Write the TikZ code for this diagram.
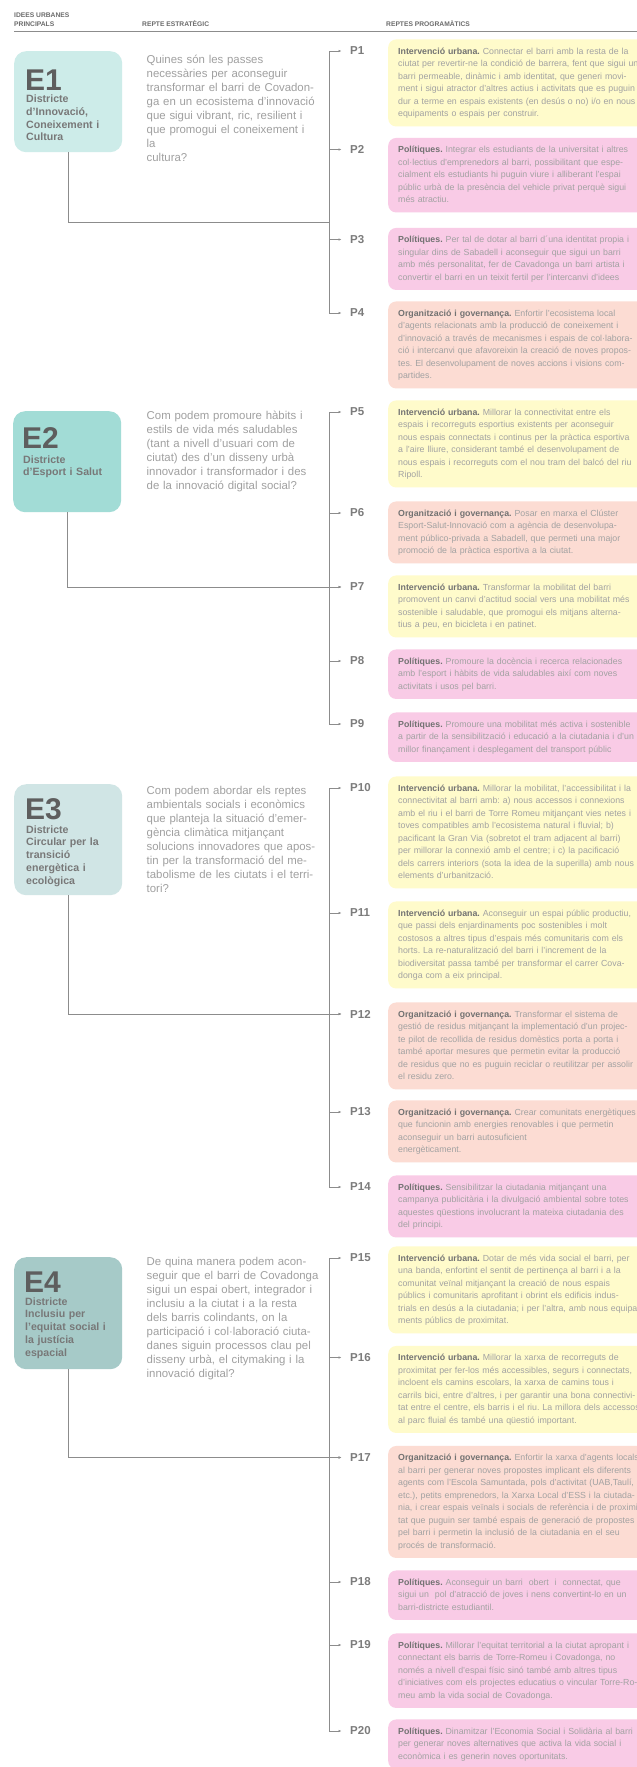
\documentclass[tikz,border=0pt]{standalone}
\usepackage{fontspec}
\setmainfont{Liberation Sans}
\usetikzlibrary{arrows.meta}
\frenchspacing
\definecolor{linegray}{HTML}{8C8C8C}
\definecolor{headgray}{HTML}{6B6B6B}
\definecolor{qgray}{HTML}{A0A0A0}
\definecolor{bodygray}{HTML}{A2A2A2}
\definecolor{boldgray}{HTML}{727272}
\definecolor{pgray}{HTML}{7C7C7C}
\definecolor{egray}{HTML}{5E5E5E}
\definecolor{esubgray}{HTML}{787878}
\definecolor{ecolA}{HTML}{CDECE9}
\definecolor{ecolB}{HTML}{A2DCD6}
\definecolor{ecolC}{HTML}{D0E5E5}
\definecolor{ecolD}{HTML}{A6CAC8}
\definecolor{cyel}{HTML}{FFFBCB}
\definecolor{cpink}{HTML}{F9CBE6}
\definecolor{csal}{HTML}{FCDCD3}
\newcommand{\LbIU}{\textcolor{boldgray}{\textbf{Intervenció urbana.}}}
\newcommand{\LbPol}{\textcolor{boldgray}{\textbf{Polítiques.}}}
\newcommand{\LbOrg}{\textcolor{boldgray}{\textbf{Organització i governança.}}}
\tikzset{
  conn/.style={draw=linegray, line width=0.9pt},
  arr/.style={conn, -{Latex[length=3pt,width=2.6pt]}, shorten >=8.5pt},
  hdr/.style={anchor=base west, inner sep=0pt, font=\fontsize{6.7}{8}\selectfont\bfseries, text=headgray},
  ebox/.style={anchor=north west, inner sep=0pt, rounded corners=12pt, minimum width=108pt},
  ehead/.style={anchor=base west, inner sep=0pt, font=\fontsize{30}{30}\selectfont\bfseries, text=egray},
  esub/.style={anchor=north west, inner sep=0pt, text width=100pt, align=left, font=\fontsize{10.6}{12.7}\selectfont\bfseries, text=esubgray},
  qtext/.style={anchor=north west, inner sep=0pt, text width=220pt, align=left, font=\fontsize{11.4}{14}\selectfont, text=qgray},
  plabel/.style={anchor=west, inner sep=0pt, font=\fontsize{11.5}{12}\selectfont\bfseries, text=pgray},
  pbox/.style={anchor=north west, rounded corners=8pt, inner xsep=10pt, inner ysep=6pt, text width=300pt, align=left, font=\fontsize{8.8}{12.5}\selectfont, text=bodygray},
}
\begin{document}
\begin{tikzpicture}[x=1pt,y=-1pt]
\useasboundingbox (0,0) rectangle (637,1767);
\fill[white] (0,0) rectangle (637,1767);
\clip (0,0) rectangle (637,1767);

% header
\node[hdr] (h1) at (14,17.5) {IDEES URBANES};
\node[hdr] (h2) at (14,26) {PRINCIPALS};
\node[hdr] (h3) at (142,26) {REPTE ESTRATÈGIC};
\node[hdr] (h4) at (386,26) {REPTES PROGRAMÀTICS};
\coordinate (hl0) at (14,31);
\coordinate (hl1) at (640,31);
\draw[conn, line width=0.8pt] (hl0) -- (hl1);

% E boxes
\node[ebox, fill=ecolA, minimum height=101pt] (E1) at (14,51) {};
\node[ehead] (E1h) at (25,90) {E1};
\node[esub] (E1s) at (26,93.6) {\strut Districte\\d'Innovació,\\Coneixement i\\Cultura};

\node[ebox, fill=ecolB, minimum height=101pt] (E2) at (13,411) {};
\node[ehead] (E2h) at (22,448) {E2};
\node[esub] (E2s) at (23,454.1) {\strut Districte\\d'Esport i Salut};

\node[ebox, fill=ecolC, minimum height=111pt] (E3) at (14,784) {};
\node[ehead] (E3h) at (25,819) {E3};
\node[esub] (E3s) at (26,824.1) {\strut Districte\\Circular per la\\transició\\energètica i\\ecològica};

\node[ebox, fill=ecolD, minimum height=112pt] (E4) at (14,1257) {};
\node[ehead] (E4h) at (24,1292) {E4};
\node[esub] (E4s) at (25,1296.1) {\strut Districte\\Inclusiu per\\l'equitat social i\\la justícia\\espacial};

% questions
\node[qtext] (Q1) at (146.5,53.2) {\strut Quines són les passes\\necessàries per aconseguir\\transformar el barri de Covadon-\\ga en un ecosistema d'innovació\\que sigui vibrant, ric, resilient i\\que promogui el coneixement i\\la\\cultura?};
\node[qtext] (Q2) at (146.5,409.2) {\strut Com podem promoure hàbits i\\estils de vida més saludables\\(tant a nivell d'usuari com de\\ciutat) des d'un disseny urbà\\innovador i transformador i des\\de la innovació digital social?};
\node[qtext] (Q3) at (146.5,784.9) {\strut Com podem abordar els reptes\\ambientals socials i econòmics\\que planteja la situació d'emer-\\gència climàtica mitjançant\\solucions innovadores que apos-\\tin per la transformació del me-\\tabolisme de les ciutats i el terri-\\tori?};
\node[qtext] (Q4) at (146.5,1255.7) {\strut De quina manera podem acon-\\seguir que el barri de Covadonga\\sigui un espai obert, integrador i\\inclusiu a la ciutat i a la resta\\dels barris colindants, on la\\participació i col·laboració ciuta-\\danes siguin processos clau pel\\disseny urbà, el citymaking i la\\innovació digital?};

% P labels, trunk points, arrows
\foreach \i/\c in {1/51,2/149.5,3/239.5,4/313,5/412,6/513,7/587,8/661,9/724,10/788,11/913,12/1014,13/1112,14/1187,15/1258,16/1357.5,17/1457.5,18/1582,19/1645,20/1731}{
  \coordinate (t\i) at (329,\c);
  \node[plabel] (P\i) at (350,\c) {P\i};
  \draw[arr] (t\i) -- (P\i);
}
\draw[conn, line cap=rect] (t1) -- (t4);
\draw[conn, line cap=rect] (t5) -- (t9);
\draw[conn, line cap=rect] (t10) -- (t14);
\draw[conn, line cap=rect] (t15) -- (t20);

% E connectors
\coordinate (j1) at (329,222);
\draw[conn] (E1.south) |- (j1);
\draw[arr] (E2.south) |- (P7);
\draw[arr] (E3.south) |- (P12);
\draw[arr] (E4.south) |- (P17);

% programme boxes
\node[pbox, fill=cyel] (B1) at (388,39.25) {\strut\LbIU{} Connectar el barri amb la resta de la\\ciutat per revertir-ne la condició de barrera, fent que sigui un\\barri permeable, dinàmic i amb identitat, que generi movi-\\ment i sigui atractor d'altres actius i activitats que es puguin\\dur a terme en espais existents (en desús o no) i/o en nous\\equipaments o espais per construir.\strut};
\node[pbox, fill=cpink] (B2) at (388,137.75) {\strut\LbPol{} Integrar els estudiants de la universitat i altres\\col·lectius d'emprenedors al barri, possibilitant que espe-\\cialment els estudiants hi puguin viure i alliberant l'espai\\públic urbà de la presència del vehicle privat perquè sigui\\més atractiu.\strut};
\node[pbox, fill=cpink] (B3) at (388,227.75) {\strut\LbPol{} Per tal de dotar al barri d´una identitat propia i\\singular dins de Sabadell i aconseguir que sigui un barri\\amb més personalitat, fer de Cavadonga un barri artista i\\convertir el barri en un teixit fertil per l'intercanvi d'idees\strut};
\node[pbox, fill=csal] (B4) at (388,301.25) {\strut\LbOrg{} Enfortir l'ecosistema local\\d'agents relacionats amb la producció de coneixement i\\d'innovació a través de mecanismes i espais de col·labora-\\ció i intercanvi que afavoreixin la creació de noves propos-\\tes. El desenvolupament de noves accions i visions com-\\partides.\strut};

\node[pbox, fill=cyel] (B5) at (388,400.25) {\strut\LbIU{} Millorar la connectivitat entre els\\espais i recorreguts esportius existents per aconseguir\\nous espais connectats i continus per la pràctica esportiva\\a l'aire lliure, considerant també el desenvolupament de\\nous espais i recorreguts com el nou tram del balcó del riu\\Ripoll.\strut};
\node[pbox, fill=csal] (B6) at (388,501.25) {\strut\LbOrg{} Posar en marxa el Clúster\\Esport-Salut-Innovació com a agència de desenvolupa-\\ment público-privada a Sabadell, que permeti una major\\promoció de la pràctica esportiva a la ciutat.\strut};
\node[pbox, fill=cyel] (B7) at (388,575.25) {\strut\LbIU{} Transformar la mobilitat del barri\\promovent un canvi d'actitud social vers una mobilitat més\\sostenible i saludable, que promogui els mitjans alterna-\\tius a peu, en bicicleta i en patinet.\strut};
\node[pbox, fill=cpink] (B8) at (388,649.25) {\strut\LbPol{} Promoure la docència i recerca relacionades\\amb l'esport i hàbits de vida saludables així com noves\\activitats i usos pel barri.\strut};
\node[pbox, fill=cpink] (B9) at (388,712.25) {\strut\LbPol{} Promoure una mobilitat més activa i sostenible\\a partir de la sensibilització i educació a la ciutadania i d'un\\millor finançament i desplegament del transport públic\strut};

\node[pbox, fill=cyel] (B10) at (388,776.25) {\strut\LbIU{} Millorar la mobilitat, l'accessibilitat i la\\connectivitat al barri amb: a) nous accessos i connexions\\amb el riu i el barri de Torre Romeu mitjançant vies netes i\\toves compatibles amb l'ecosistema natural i fluvial; b)\\pacificant la Gran Via (sobretot el tram adjacent al barri)\\per millorar la connexió amb el centre; i c) la pacificació\\dels carrers interiors (sota la idea de la superilla) amb nous\\elements d'urbanització.\strut};
\node[pbox, fill=cyel] (B11) at (388,901.25) {\strut\LbIU{} Aconseguir un espai públic productiu,\\que passi dels enjardinaments poc sostenibles i molt\\costosos a altres tipus d'espais més comunitaris com els\\horts. La re-naturalització del barri i l'increment de la\\biodiversitat passa també per transformar el carrer Cova-\\donga com a eix principal.\strut};
\node[pbox, fill=csal] (B12) at (388,1002.25) {\strut\LbOrg{} Transformar el sistema de\\gestió de residus mitjançant la implementació d'un projec-\\te pilot de recollida de residus domèstics porta a porta i\\també aportar mesures que permetin evitar la producció\\de residus que no es puguin reciclar o reutilitzar per assolir\\el residu zero.\strut};
\node[pbox, fill=csal] (B13) at (388,1100.25) {\strut\LbOrg{} Crear comunitats energètiques\\que funcionin amb energies renovables i que permetin\\aconseguir un barri autosuficient\\energèticament.\strut};
\node[pbox, fill=cpink] (B14) at (388,1175.25) {\strut\LbPol{} Sensibilitzar la ciutadania mitjançant una\\campanya publicitària i la divulgació ambiental sobre totes\\aquestes qüestions involucrant la mateixa ciutadania des\\del principi.\strut};

\node[pbox, fill=cyel] (B15) at (388,1246.25) {\strut\LbIU{} Dotar de més vida social el barri, per\\una banda, enfortint el sentit de pertinença al barri i a la\\comunitat veïnal mitjançant la creació de nous espais\\públics i comunitaris aprofitant i obrint els edificis indus-\\trials en desús a la ciutadania; i per l'altra, amb nous equipa-\\ments públics de proximitat.\strut};
\node[pbox, fill=cyel] (B16) at (388,1345.75) {\strut\LbIU{} Millorar la xarxa de recorreguts de\\proximitat per fer-los més accessibles, segurs i connectats,\\incloent els camins escolars, la xarxa de camins tous i\\carrils bici, entre d'altres, i per garantir una bona connectivi-\\tat entre el centre, els barris i el riu. La millora dels accessos\\al parc fluial és també una qüestió important.\strut};
\node[pbox, fill=csal] (B17) at (388,1445.75) {\strut\LbOrg{} Enfortir la xarxa d'agents locals\\al barri per generar noves propostes implicant els diferents\\agents com l'Escola Samuntada, pols d'activitat (UAB,Taulí,\\etc.), petits emprenedors, la Xarxa Local d'ESS i la ciutada-\\nia, i crear espais veïnals i socials de referència i de proximi-\\tat que puguin ser també espais de generació de propostes\\pel barri i permetin la inclusió de la ciutadania en el seu\\procés de transformació.\strut};
\node[pbox, fill=cpink] (B18) at (388,1570.25) {\strut\LbPol{} Aconseguir un barri \ obert \ i \ connectat, que\\sigui un \ pol d'atracció de joves i nens convertint-lo en un\\barri-districte estudiantil.\strut};
\node[pbox, fill=cpink] (B19) at (388,1633.25) {\strut\LbPol{} Millorar l'equitat territorial a la ciutat apropant i\\connectant els barris de Torre-Romeu i Covadonga, no\\només a nivell d'espai físic sinó també amb altres tipus\\d'iniciatives com els projectes educatius o vincular Torre-Ro-\\meu amb la vida social de Covadonga.\strut};
\node[pbox, fill=cpink] (B20) at (388,1719.25) {\strut\LbPol{} Dinamitzar l'Economia Social i Solidària al barri\\per generar noves alternatives que activa la vida social i\\econòmica i es generin noves oportunitats.\strut};
\end{tikzpicture}
\end{document}
